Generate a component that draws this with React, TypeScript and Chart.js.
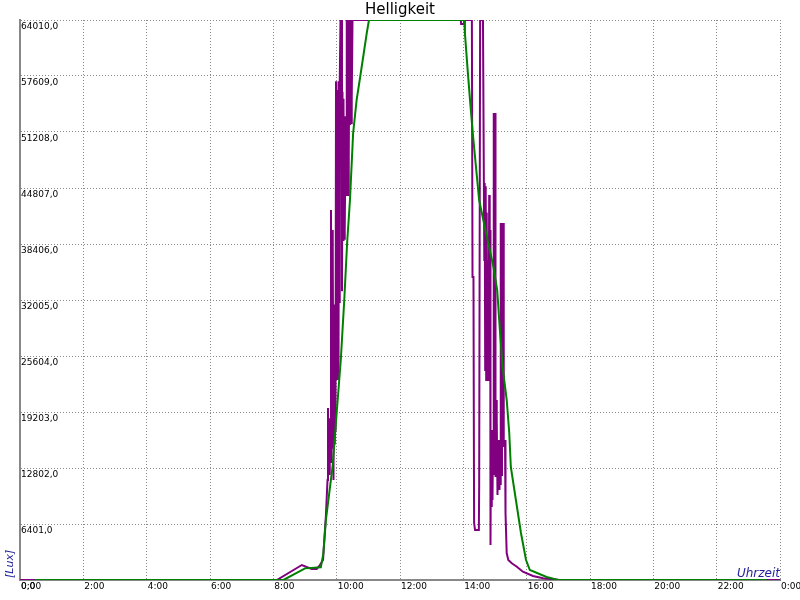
import React, { useEffect, useRef } from 'react';
import { Chart, registerables } from 'chart.js';

Chart.register(...registerables);

const TITLE = 'Helligkeit';
const Y_UNIT = '[Lux]';
const X_NAME = 'Uhrzeit';

const xTickHours = [0, 2, 4, 6, 8, 10, 12, 14, 16, 18, 20, 22, 24];
const xTickLabels = ['0:00', '2:00', '4:00', '6:00', '8:00', '10:00', '12:00', '14:00', '16:00', '18:00', '20:00', '22:00', '0:00'];
const yTickValues = [0, 6401, 12802, 19203, 25604, 32005, 38406, 44807, 51208, 57609, 64010];
const yTickLabels = ['0,0', '6401,0', '12802,0', '19203,0', '25604,0', '32005,0', '38406,0', '44807,0', '51208,0', '57609,0', '64010,0'];

// Purple series (raw measurement): time in hours, brightness in lux
const purpleHours = [
  0, 8.11, 8.9, 9.21, 9.37, 9.47, 9.57, 9.63, 9.66, 9.711,
  9.726, 9.742, 9.758, 9.774, 9.789, 9.805, 9.821, 9.837, 9.853, 9.868,
  9.884, 9.9, 9.916, 9.932, 9.947, 9.963, 9.979, 9.995, 10.011, 10.026,
  10.042, 10.058, 10.074, 10.089, 10.105, 10.121, 10.153, 10.168, 10.184, 10.2,
  10.216, 10.232, 10.247, 10.263, 10.279, 10.295, 10.311, 10.326, 10.342, 10.358,
  10.374, 10.389, 10.405, 10.421, 10.437, 10.453, 10.468, 10.484, 10.5, 13.92,
  13.93, 14.02, 14.03, 14.27, 14.29, 14.32, 14.34, 14.37, 14.49, 14.5,
  14.53, 14.62, 14.662, 14.675, 14.69, 14.706, 14.722, 14.738, 14.753, 14.769,
  14.785, 14.801, 14.817, 14.833, 14.848, 14.858, 14.874, 14.89, 14.905, 14.921,
  14.937, 14.953, 14.968, 14.984, 15.0, 15.016, 15.032, 15.047, 15.063, 15.079,
  15.095, 15.111, 15.126, 15.142, 15.158, 15.174, 15.189, 15.205, 15.221, 15.237,
  15.253, 15.268, 15.284, 15.3, 15.316, 15.332, 15.369, 15.42, 15.53, 15.69,
  15.88, 16.2, 16.52, 16.83, 17.05, 24,
];
const purpleLux = [
  0, 0, 1715, 1257, 1257, 1715, 2286, 5715, 7315, 11430,
  19660, 13000, 18500, 12000, 17000, 13500, 42300, 15000, 40000, 16000,
  38000, 11430, 31000, 15500, 31500, 17000, 57000, 22860, 56000, 24000,
  52000, 22860, 57000, 31660, 57000, 64010, 64010, 33000, 55800, 38860,
  55000, 39000, 53000, 40000, 50000, 44000, 64010, 45000, 64010, 44000,
  64010, 48000, 64010, 52000, 64010, 52200, 64010, 55000, 64010, 64010,
  63553, 63553, 64010, 64010, 34633, 34633, 6515, 5715, 5715, 10630,
  64010, 64010, 36576, 45377, 24000, 45000, 22860, 42000, 23089, 36576,
  22860, 30000, 44006, 23000, 40000, 4000, 17145, 8344, 17145, 9144,
  16000, 12000, 53378, 20574, 53378, 11773, 20574, 11773, 18288, 9716,
  16002, 10287, 13373, 10287, 13373, 10859, 40805, 12000, 40805, 16002,
  40805, 15202, 16002, 15202, 16002, 7658, 3086, 2286, 1909, 1520,
  949, 457, 194, 80, 0, 0,
];

// Green series (smoothed)
const greenHours = [
  0.47, 8.32, 9.0, 9.5, 9.58, 9.66, 9.87, 10.0, 10.13, 10.24,
  10.33, 10.42, 10.52, 10.63, 10.79, 10.95, 11.02, 14.03, 14.05, 14.13,
  14.21, 14.3, 14.4, 14.5, 14.72, 14.95, 15.07, 15.16, 15.24, 15.37,
  15.45, 15.5, 15.66, 15.82, 15.98, 16.1, 16.63, 16.99, 23.58,
];
const greenLux = [
  0, 0, 1330, 1450, 3050, 6860, 12950, 19090, 25150, 32000,
  38520, 43430, 51090, 54860, 58640, 62520, 64010, 64010, 62500, 58600,
  54900, 51000, 47200, 43400, 39600, 35800, 33100, 28230, 24350, 20570,
  16800, 12920, 9144, 5370, 2286, 1143, 343, 0, 0,
];

const PURPLE = '#800080';
const GREEN = '#008000';
const GRID = '#8a8a8a';
const AXIS = '#888888';
const AXIS_NAME = '#22229c';
const FONT = '"DejaVu Sans", Verdana, sans-serif';

const labelsPlugin = {
  id: 'labelsPlugin',
  afterDraw(chart: any) {
    const { ctx, chartArea, scales } = chart;
    const xs = scales.x;
    const ys = scales.y;
    ctx.save();
    ctx.fillStyle = '#000';
    ctx.font = `15px ${FONT}`;
    ctx.textAlign = 'center';
    ctx.textBaseline = 'alphabetic';
    ctx.fillText(TITLE, (chartArea.left + chartArea.right) / 2, 13.5);
    ctx.font = `9px ${FONT}`;
    ctx.textAlign = 'left';
    yTickValues.forEach((v, i) => {
      const y = ys.getPixelForValue(v);
      ctx.fillText(yTickLabels[i], chartArea.left + 1, y + 8.5);
    });
    xTickHours.forEach((h, i) => {
      const x = xs.getPixelForValue(h);
      ctx.fillText(xTickLabels[i], x + 1, chartArea.bottom + 9);
    });
    ctx.fillStyle = AXIS_NAME;
    ctx.font = `italic 12px ${FONT}`;
    ctx.textAlign = 'right';
    ctx.fillText(X_NAME, chartArea.right, chartArea.bottom - 3);
    ctx.save();
    ctx.translate(chartArea.left - 7, chartArea.bottom - 2);
    ctx.rotate(-Math.PI / 2);
    ctx.font = `italic 11px ${FONT}`;
    ctx.textAlign = 'left';
    ctx.fillText(Y_UNIT, 0, 0);
    ctx.restore();
    ctx.restore();
  },
};

export default function App() {
  const ref = useRef<HTMLCanvasElement | null>(null);
  useEffect(() => {
    if (!ref.current) return;
    const chart = new Chart(ref.current, {
      type: 'line',
      data: {
        datasets: [
          {
            label: 'Mittelwert',
            data: greenHours.map((h, i) => ({ x: h, y: greenLux[i] })),
            borderColor: GREEN,
            backgroundColor: GREEN,
            borderWidth: 2,
            pointRadius: 0,
            tension: 0,
            fill: false,
            order: 0,
          },
          {
            label: 'Helligkeit',
            data: purpleHours.map((h, i) => ({ x: h, y: purpleLux[i] })),
            borderColor: PURPLE,
            backgroundColor: PURPLE,
            borderWidth: 2,
            pointRadius: 0,
            tension: 0,
            fill: false,
            order: 1,
          },
        ],
      },
      options: {
        animation: false,
        responsive: true,
        maintainAspectRatio: false,
        layout: { padding: { left: 20, right: 20, top: 20, bottom: 20 } },
        plugins: {
          legend: { display: false },
          tooltip: { enabled: false },
          title: { display: false },
        },
        scales: {
          x: {
            type: 'linear',
            min: 0,
            max: 24,
            afterBuildTicks: (s: any) => {
              s.ticks = xTickHours.map((v) => ({ value: v }));
            },
            ticks: { display: false },
            grid: { color: GRID, lineWidth: 1, drawTicks: false },
            border: { display: true, color: AXIS, width: 2, dash: [1, 2] },
          },
          y: {
            type: 'linear',
            min: 0,
            max: 64010,
            afterBuildTicks: (s: any) => {
              s.ticks = yTickValues.map((v) => ({ value: v }));
            },
            ticks: { display: false },
            grid: { color: GRID, lineWidth: 1, drawTicks: false },
            border: { display: true, color: AXIS, width: 2, dash: [1, 2] },
          },
        },
      } as any,
      plugins: [labelsPlugin],
    });
    return () => chart.destroy();
  }, []);
  return (
    <div style={{ position: 'absolute', left: 0, top: 0, width: 800, height: 600, background: '#fff' }}>
      <canvas ref={ref} />
    </div>
  );
}
